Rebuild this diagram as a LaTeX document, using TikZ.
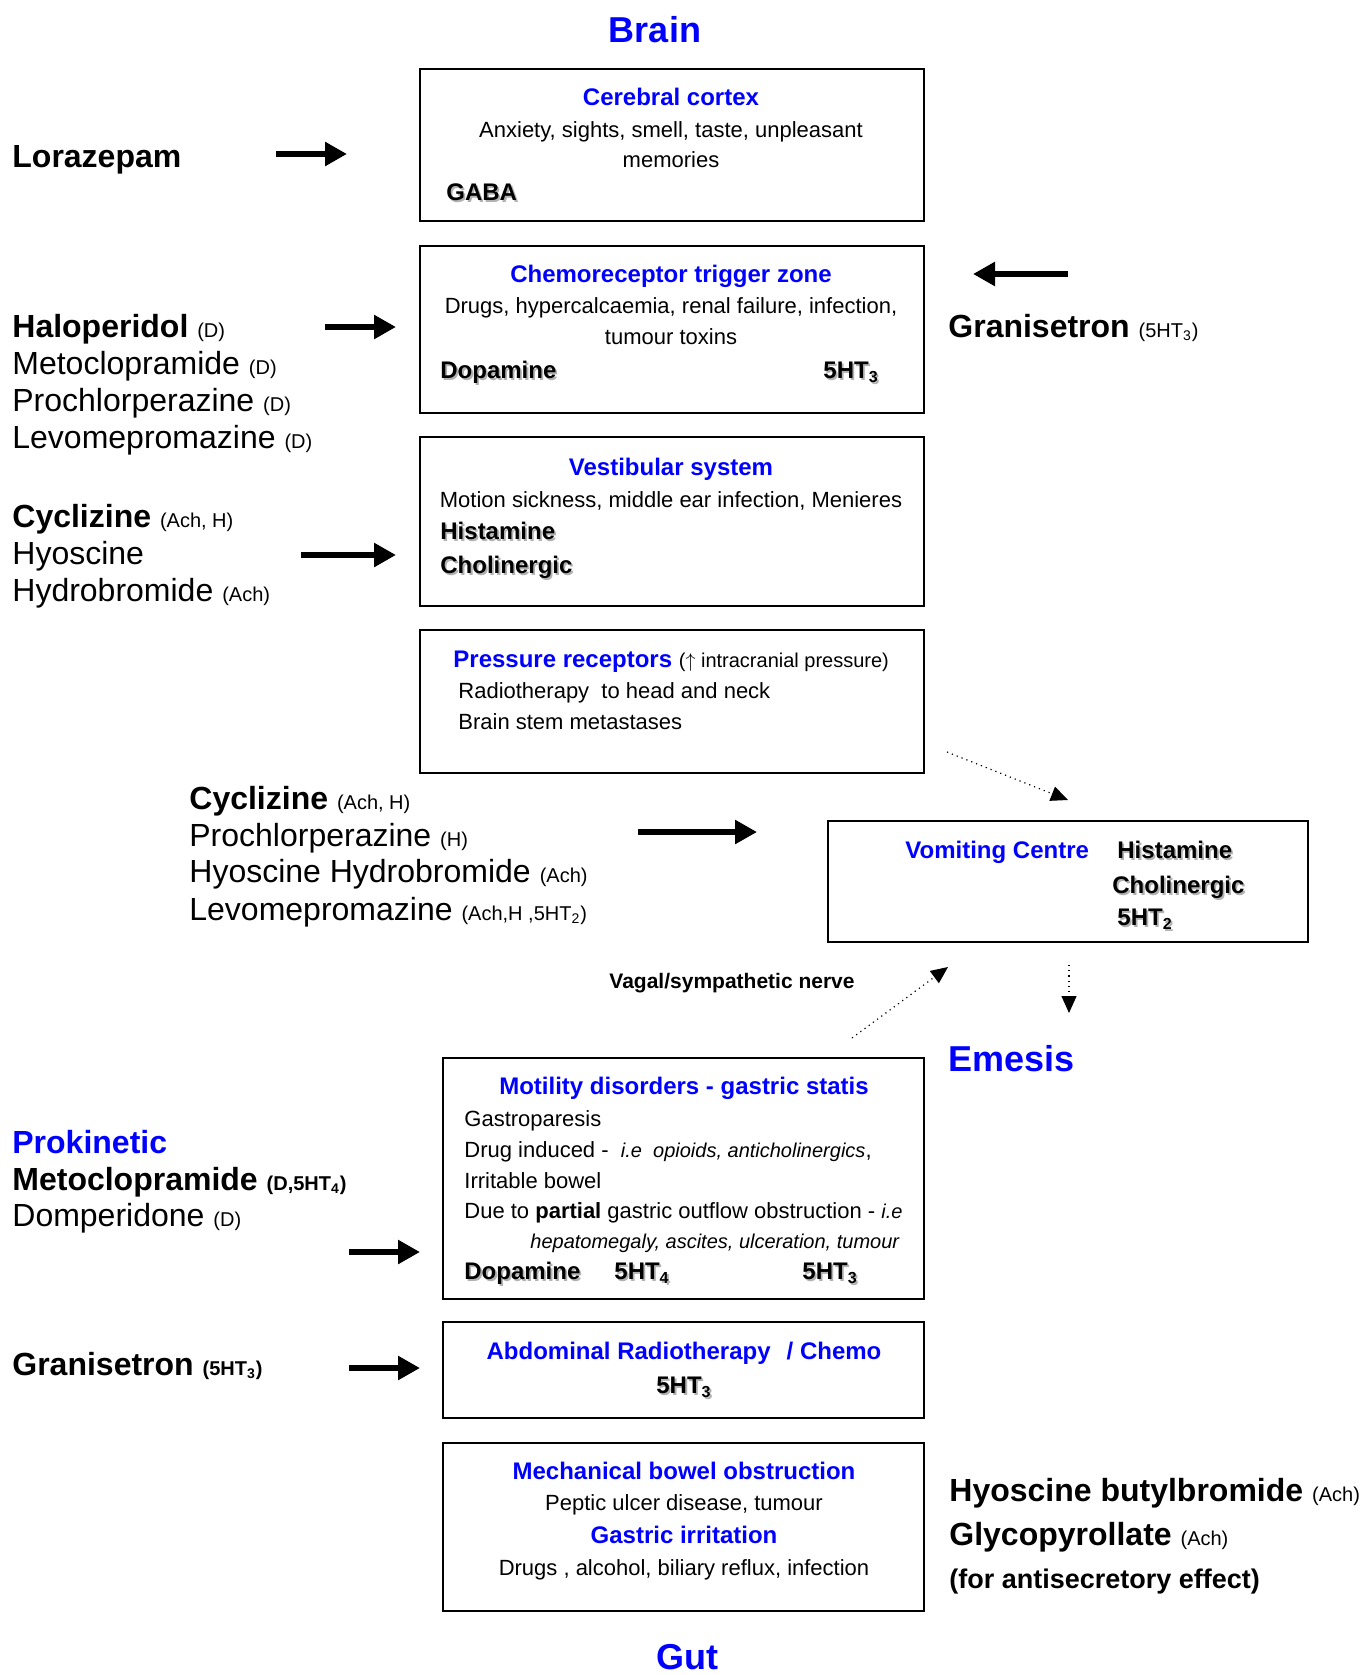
\documentclass[tikz,border=0pt]{standalone}
\usepackage{fontspec}
\setmainfont{Liberation Sans}
\usetikzlibrary{positioning,arrows.meta}
\definecolor{vblue}{RGB}{0,0,255}
\newcommand{\shtxt}[1]{\makebox[0pt][l]{\hspace{0.9pt}\raisebox{-0.9pt}{\textcolor{black!30}{#1}}}#1}
\newcommand{\ann}[1]{{\fontsize{10}{12}\selectfont #1}}
\newcommand{\smit}[1]{{\fontsize{10}{12}\selectfont\itshape #1}}

\begin{document}
\begin{tikzpicture}[x=0.5pt, y=-0.5pt,
    box/.style={draw, line width=1.2pt, inner sep=0pt},
    head/.style={font=\fontsize{18}{20}\selectfont\bfseries, text=vblue, anchor=base, inner sep=0pt},
    boxtitle/.style={font=\fontsize{12}{14}\selectfont\bfseries, text=vblue, anchor=base, inner sep=0pt},
    boxtext/.style={font=\fontsize{11}{13}\selectfont, anchor=base, inner sep=0pt},
    boxbold/.style={font=\fontsize{12}{14}\selectfont\bfseries, anchor=base west, inner sep=0pt},
    drug/.style={font=\fontsize{16}{18}\selectfont, anchor=base west, inner sep=0pt},
    bigarrow/.style={line width=3pt, -{Triangle[length=11pt,width=11.5pt]}},
    dotarrow/.style={line width=0.6pt, dotted, -{Triangle[length=8.5pt,width=7.5pt]}}
]
    \useasboundingbox (0,0) rectangle (1365,1675);

    % headings
    \node[head] (brain) at (655,43) {Brain};
    \node[head, anchor=base west] (emesis) at (948,1071) {Emesis};
    \node[head] (gut) at (687,1669) {Gut};

    % brain boxes
    \node[box, minimum width=252pt, minimum height=76pt] (cortex) at (672,145) {};
    \node[boxtitle] (cortex-t) at (671,105.6) {Cerebral cortex};
    \node[boxtext] (cortex-1) at (671,137) {Anxiety, sights, smell, taste, unpleasant};
    \node[boxtext] (cortex-2) at (671,168) {memories};
    \node[boxbold] (gaba) at (446,200.6) {\shtxt{GABA}};

    \node[box, minimum width=252pt, minimum height=83.5pt] (ctz) at (672,329.5) {};
    \node[boxtitle] (ctz-t) at (671,282.6) {Chemoreceptor trigger zone};
    \node[boxtext] (ctz-1) at (671,313) {Drugs, hypercalcaemia, renal failure, infection,};
    \node[boxtext] (ctz-2) at (671,344) {tumour toxins};
    \node[boxbold] (ctz-dop) at (440,378.6) {\shtxt{Dopamine}};
    \node[boxbold] (ctz-5ht) at (823,378.6) {\shtxt{5HT\textsubscript{3}}};

    \node[box, minimum width=252pt, minimum height=84.5pt] (vest) at (672,521.5) {};
    \node[boxtitle] (vest-t) at (671,475.6) {Vestibular system};
    \node[boxtext] (vest-1) at (671,507) {Motion sickness, middle ear infection, Menieres};
    \node[boxbold] (vest-his) at (440,539.6) {\shtxt{Histamine}};
    \node[boxbold] (vest-cho) at (440,573.6) {\shtxt{Cholinergic}};

    \node[box, minimum width=252pt, minimum height=71.5pt] (press) at (672,701.5) {};
    \node[boxtitle, anchor=base west] (press-t) at (453,667.6) {Pressure receptors {\color{black}\mdseries\fontsize{10}{12}\selectfont($\uparrow$ intracranial pressure)}};
    \node[boxtext, anchor=base west] (press-1) at (458,698) {Radiotherapy\ \ to head and neck};
    \node[boxtext, anchor=base west] (press-2) at (458,729) {Brain stem metastases};

    % vomiting centre
    \node[box, minimum width=240pt, minimum height=60.5pt] (vc) at (1068,881.5) {};
    \node[boxtitle, anchor=base west] (vc-t) at (905,858.6) {Vomiting Centre};
    \node[boxbold] (vc-his) at (1117,858.6) {\shtxt{Histamine}};
    \node[boxbold] (vc-cho) at (1112,893.6) {\shtxt{Cholinergic}};
    \node[boxbold] (vc-5ht) at (1117,925.6) {\shtxt{5HT\textsubscript{2}}};

    % gut boxes
    \node[box, minimum width=240.5pt, minimum height=120.5pt] (motil) at (683.5,1178.5) {};
    \node[boxtitle] (motil-t) at (684,1094.6) {Motility disorders - gastric statis};
    \node[boxtext, anchor=base west] (motil-1) at (464,1126) {Gastroparesis};
    \node[boxtext, anchor=base west] (motil-2) at (464,1157) {Drug induced -\ \ \smit{i.e\ \ opioids, anticholinergics},};
    \node[boxtext, anchor=base west] (motil-3) at (464,1188) {Irritable bowel};
    \node[boxtext, anchor=base west] (motil-4) at (464,1218) {Due to \textbf{partial} gastric outflow obstruction - \smit{i.e}};
    \node[boxtext, anchor=base west] (motil-5) at (530,1248) {\smit{hepatomegaly, ascites, ulceration, tumour}};
    \node[boxbold] (motil-dop) at (464,1279.6) {\shtxt{Dopamine}};
    \node[boxbold] (motil-5ht4) at (614,1279.6) {\shtxt{5HT\textsubscript{4}}};
    \node[boxbold] (motil-5ht3) at (802,1279.6) {\shtxt{5HT\textsubscript{3}}};

    \node[box, minimum width=240.5pt, minimum height=48pt] (abdo) at (683.5,1370) {};
    \node[boxtitle] (abdo-t) at (684,1359.6) {Abdominal Radiotherapy\hspace{8pt}/ Chemo};
    \node[boxbold, anchor=base] (abdo-5ht) at (684,1393.6) {\shtxt{5HT\textsubscript{3}}};

    \node[box, minimum width=240.5pt, minimum height=84pt] (mech) at (683.5,1527) {};
    \node[boxtitle] (mech-t) at (684,1479.6) {Mechanical bowel obstruction};
    \node[boxtext] (mech-1) at (684,1510) {Peptic ulcer disease, tumour};
    \node[boxtitle] (mech-t2) at (684,1543.6) {Gastric irritation};
    \node[boxtext] (mech-2) at (684,1575) {Drugs , alcohol, biliary reflux, infection};

    % drugs
    \node[drug, font=\fontsize{16}{18}\selectfont\bfseries] (loraz) at (12,167.5) {Lorazepam};

    \node[drug] (halo) at (12,337.5) {\textbf{Haloperidol} \ann{(D)}};
    \node[drug] (meto) at (12,374.5) {Metoclopramide \ann{(D)}};
    \node[drug] (prochl) at (12,411.5) {Prochlorperazine \ann{(D)}};
    \node[drug] (levo) at (12,448.5) {Levomepromazine \ann{(D)}};

    \node[drug] (grani) at (948,337.5) {\textbf{Granisetron} \ann{(5HT\textsubscript{3})}};

    \node[drug] (cycl) at (12,527.5) {\textbf{Cyclizine} \ann{(Ach, H)}};
    \node[drug] (hyos) at (12,564.5) {Hyoscine};
    \node[drug] (hydro) at (12,601.5) {Hydrobromide \ann{(Ach)}};

    \node[drug] (cycl2) at (189,809.5) {\textbf{Cyclizine} \ann{(Ach, H)}};
    \node[drug] (prochl2) at (189,846.5) {Prochlorperazine \ann{(H)}};
    \node[drug] (hyos2) at (189,882.5) {Hyoscine Hydrobromide \ann{(Ach)}};
    \node[drug] (levo2) at (189,920.5) {Levomepromazine \ann{(Ach,H ,5HT\textsubscript{2})}};

    \node[drug, text=vblue, font=\fontsize{16}{18}\selectfont\bfseries] (prokin) at (12,1153.5) {Prokinetic};
    \node[drug] (meto2) at (12,1190.5) {\textbf{Metoclopramide} \ann{\textbf{(D,5HT\textsubscript{4})}}};
    \node[drug] (domp) at (12,1226.5) {Domperidone \ann{(D)}};

    \node[drug] (grani2) at (12,1375.5) {\textbf{Granisetron} \ann{\textbf{(5HT\textsubscript{3})}}};

    \node[drug, font=\fontsize{16}{18}\selectfont\bfseries] (butyl) at (949,1501.5) {Hyoscine butylbromide \ann{\mdseries(Ach)}};
    \node[drug, font=\fontsize{16}{18}\selectfont\bfseries] (glyco) at (949,1545.5) {Glycopyrollate \ann{\mdseries(Ach)}};
    \node[drug, font=\fontsize{13.5}{16}\selectfont\bfseries] (antisec) at (949,1588.5) {(for antisecretory effect)};

    \node[font=\fontsize{10.5}{12}\selectfont\bfseries, inner sep=0pt, anchor=base] (vagal) at (732,988.5) {Vagal/sympathetic nerve};

    % arrow ends
    \coordinate (loraz-s) at (276,154);  \coordinate (loraz-e) at (347,154);
    \coordinate (halo-s) at (325,327);   \coordinate (halo-e) at (396,327);
    \coordinate (grani-s) at (1068,274); \coordinate (grani-e) at (973,274);
    \coordinate (cycl-s) at (301,555);   \coordinate (cycl-e) at (396,555);
    \coordinate (cycl2-s) at (638,832);  \coordinate (cycl2-e) at (757,832);
    \coordinate (prokin-s) at (349,1252); \coordinate (prokin-e) at (420,1252);
    \coordinate (grani2-s) at (349,1368); \coordinate (grani2-e) at (420,1368);
    \coordinate (press-s) at (947,752);  \coordinate (vc-in1) at (1068,800);
    \coordinate (vagal-s) at (852,1038); \coordinate (vc-in2) at (948,967);
    \coordinate (vc-out) at (1069,965);  \coordinate (emesis-in) at (1069,1013);

    \draw[bigarrow] (loraz-s) -- (loraz-e);
    \draw[bigarrow] (halo-s) -- (halo-e);
    \draw[bigarrow] (grani-s) -- (grani-e);
    \draw[bigarrow] (cycl-s) -- (cycl-e);
    \draw[bigarrow] (cycl2-s) -- (cycl2-e);
    \draw[bigarrow] (prokin-s) -- (prokin-e);
    \draw[bigarrow] (grani2-s) -- (grani2-e);

    \draw[dotarrow] (press-s) -- (vc-in1);
    \draw[dotarrow] (vagal-s) -- (vc-in2);
    \draw[dotarrow] (vc-out) -- (emesis-in);
\end{tikzpicture}
\end{document}
